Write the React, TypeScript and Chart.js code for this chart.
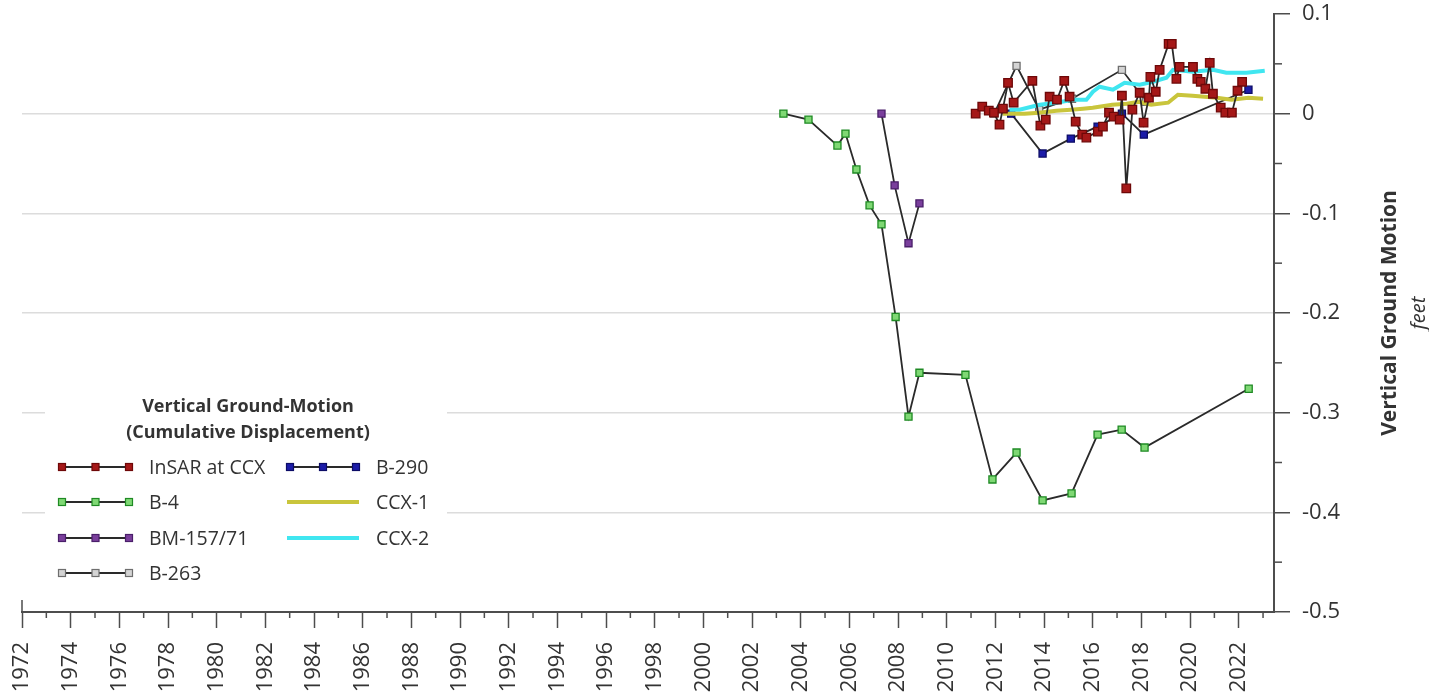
import React, { useEffect, useRef } from 'react';
import { Chart, registerables } from 'chart.js';

Chart.register(...registerables);

// ---------- axis ranges ----------
const xMin = 1972;
const xMax = 2023.45;
const yMin = -0.5;
const yMax = 0.1;

// ---------- data ----------
const insarYears = [2011.19, 2011.46, 2011.73, 2011.94, 2012.17, 2012.31, 2012.52, 2012.75, 2013.52, 2013.85, 2014.07, 2014.23, 2014.53, 2014.83, 2015.05, 2015.3, 2015.57, 2015.74, 2016.21, 2016.42, 2016.67, 2016.86, 2017.11, 2017.2, 2017.38, 2017.63, 2017.93, 2018.09, 2018.31, 2018.37, 2018.59, 2018.75, 2019.12, 2019.25, 2019.44, 2019.57, 2020.12, 2020.3, 2020.44, 2020.63, 2020.81, 2020.94, 2021.26, 2021.45, 2021.72, 2021.95, 2022.14];
const insarValues = [0.0, 0.007, 0.003, 0.001, -0.011, 0.005, 0.031, 0.011, 0.033, -0.012, -0.006, 0.017, 0.014, 0.033, 0.017, -0.008, -0.021, -0.024, -0.018, -0.013, 0.001, -0.003, -0.006, 0.018, -0.075, 0.004, 0.021, -0.009, 0.016, 0.037, 0.022, 0.044, 0.07, 0.07, 0.035, 0.047, 0.047, 0.035, 0.032, 0.025, 0.051, 0.02, 0.006, 0.001, 0.001, 0.023, 0.032];

const b4Years = [2003.29, 2004.32, 2005.51, 2005.84, 2006.29, 2006.83, 2007.32, 2007.9, 2008.43, 2008.88, 2010.77, 2011.88, 2012.87, 2013.94, 2015.13, 2016.2, 2017.19, 2018.13, 2022.41];
const b4Values = [0.0, -0.006, -0.032, -0.02, -0.056, -0.092, -0.111, -0.204, -0.304, -0.26, -0.262, -0.367, -0.34, -0.388, -0.381, -0.322, -0.317, -0.335, -0.276];

const bm157Years = [2007.32, 2007.86, 2008.43, 2008.88];
const bm157Values = [0.0, -0.072, -0.13, -0.09];

const b263Years = [2011.95, 2012.87, 2013.8, 2015.15, 2017.2, 2018.2];
const b263Values = [0.0, 0.048, 0.004, 0.015, 0.044, 0.012];

const b290Years = [2012.65, 2013.94, 2015.1, 2016.2, 2017.2, 2018.1, 2022.4];
const b290Values = [0.0, -0.04, -0.025, -0.013, 0.0, -0.021, 0.024];

const ccx1Years = [2012.3, 2013.2, 2013.8, 2014.5, 2015.1, 2015.6, 2016.0, 2016.8, 2017.4, 2017.9, 2018.4, 2019.1, 2019.5, 2020.1, 2020.6, 2021.1, 2021.7, 2022.4, 2023.0];
const ccx1Values = [0.0, 0.0, 0.001, 0.003, 0.004, 0.005, 0.006, 0.009, 0.01, 0.012, 0.009, 0.011, 0.019, 0.018, 0.017, 0.016, 0.014, 0.016, 0.015];

const ccx2Years = [2012.58, 2012.99, 2013.82, 2014.5, 2015.19, 2015.74, 2016.01, 2016.28, 2016.83, 2017.31, 2017.93, 2018.48, 2019.03, 2019.3, 2020.12, 2020.94, 2021.49, 2022.32, 2023.07];
const ccx2Values = [0.004, 0.004, 0.009, 0.011, 0.014, 0.014, 0.022, 0.027, 0.024, 0.031, 0.029, 0.032, 0.036, 0.044, 0.042, 0.044, 0.041, 0.041, 0.043];

const seriesLabels = ['InSAR at CCX', 'B-4', 'BM-157/71', 'B-263', 'B-290', 'CCX-1', 'CCX-2'];

// ---------- styles ----------
const FONT = '"Open Sans", sans-serif';
const AXIS = '#4d4d4d';
const TEXT = '#333333';
const LINE = '#2a2a2a';

const zip = (xs: number[], ys: number[]) => xs.map((x, i) => ({ x, y: ys[i] }));

const markerSeries = (label: string, xs: number[], ys: number[], fill: string, stroke: string, radius: number, order: number) => ({
  label,
  data: zip(xs, ys),
  borderColor: LINE,
  borderWidth: 1.8,
  pointStyle: 'rect',
  pointRadius: radius,
  pointBackgroundColor: fill,
  pointBorderColor: stroke,
  pointBorderWidth: 1.3,
  tension: 0,
  fill: false,
  order,
});

const plainSeries = (label: string, xs: number[], ys: number[], color: string, order: number) => ({
  label,
  data: zip(xs, ys),
  borderColor: color,
  borderWidth: 4,
  pointRadius: 0,
  tension: 0,
  fill: false,
  order,
});

const decorPlugin = {
  id: 'decor',
  afterDraw(chart: any) {
    const ctx = chart.ctx as CanvasRenderingContext2D;
    const xs = chart.scales.x;
    const ys = chart.scales.y;
    const area = chart.chartArea;
    ctx.save();
    // minor ticks
    ctx.strokeStyle = AXIS;
    ctx.lineWidth = 1.5;
    for (let yr = Math.ceil(xMin); yr <= xMax; yr++) {
      if (yr % 2 === 0) continue;
      const px = xs.getPixelForValue(yr);
      ctx.beginPath();
      ctx.moveTo(px, area.bottom);
      ctx.lineTo(px, area.bottom + 6);
      ctx.stroke();
    }
    for (let k = -9; k <= 1; k += 2) {
      const py = ys.getPixelForValue(k * 0.05);
      ctx.beginPath();
      ctx.moveTo(area.right, py);
      ctx.lineTo(area.right + 8, py);
      ctx.stroke();
    }
    // left edge tick
    const lx = xs.getPixelForValue(xMin);
    ctx.beginPath();
    ctx.moveTo(lx, area.bottom - 12);
    ctx.lineTo(lx, area.bottom);
    ctx.stroke();

    // right axis title
    ctx.fillStyle = TEXT;
    ctx.textAlign = 'center';
    ctx.textBaseline = 'middle';
    ctx.translate(1390, 313);
    ctx.rotate(-Math.PI / 2);
    ctx.font = `bold 21px ${FONT}`;
    ctx.fillText('Vertical Ground Motion', 0, 0);
    ctx.font = `italic 20px ${FONT}`;
    ctx.fillText('feet', 0, 29);
    ctx.restore();

    // legend
    ctx.save();
    ctx.fillStyle = '#ffffff';
    ctx.fillRect(45, 386, 402, 208);
    ctx.fillStyle = TEXT;
    ctx.textAlign = 'center';
    ctx.textBaseline = 'middle';
    ctx.font = `bold 18px ${FONT}`;
    ctx.fillText('Vertical Ground-Motion', 248, 407);
    ctx.fillText('(Cumulative Displacement)', 248, 433);
    const rows = [467, 502, 538, 573];
    const cols = [
      { x0: 59, x1: 132, tx: 149, items: [0, 1, 2, 3] },
      { x0: 287, x1: 359, tx: 376, items: [4, 5, 6] },
    ];
    ctx.textAlign = 'left';
    ctx.font = `19.5px ${FONT}`;
    cols.forEach((c) => {
      c.items.forEach((di, r) => {
        const ds: any = chart.data.datasets[di];
        const y = rows[r];
        ctx.beginPath();
        ctx.strokeStyle = ds.borderColor;
        ctx.lineWidth = ds.pointRadius ? 1.8 : 4;
        ctx.moveTo(c.x0, y);
        ctx.lineTo(c.x1, y);
        ctx.stroke();
        if (ds.pointRadius) {
          [c.x0 + 3, (c.x0 + c.x1) / 2, c.x1 - 3].forEach((mx) => {
            ctx.fillStyle = ds.pointBackgroundColor;
            ctx.strokeStyle = ds.pointBorderColor;
            ctx.lineWidth = 1.2;
            ctx.fillRect(mx - 3.5, y - 3.5, 7, 7);
            ctx.strokeRect(mx - 3.5, y - 3.5, 7, 7);
          });
        }
        ctx.fillStyle = TEXT;
        ctx.fillText(ds.label, c.tx, y + 1);
      });
    });
    ctx.restore();
  },
};

export default function App() {
  const canvasRef = useRef<HTMLCanvasElement | null>(null);

  useEffect(() => {
    if (!canvasRef.current) return;
    const chart = new Chart(canvasRef.current, {
      type: 'line',
      data: {
        datasets: [
          markerSeries(seriesLabels[0], insarYears, insarValues, '#a51818', '#6e0808', 6, 2),
          markerSeries(seriesLabels[1], b4Years, b4Values, '#7fd874', '#1f8a24', 5, 1),
          markerSeries(seriesLabels[2], bm157Years, bm157Values, '#7a3f9c', '#4a1f6a', 5, 1),
          markerSeries(seriesLabels[3], b263Years, b263Values, '#d4d4d4', '#6e6e6e', 5, 4),
          markerSeries(seriesLabels[4], b290Years, b290Values, '#1c1ca8', '#0c0c66', 5, 5),
          plainSeries(seriesLabels[5], ccx1Years, ccx1Values, '#c9c53c', 3),
          plainSeries(seriesLabels[6], ccx2Years, ccx2Values, '#40e6f0', 3),
        ] as any,
      },
      options: {
        responsive: false,
        animation: false,
        layout: { padding: { left: 22, top: 14, right: 0, bottom: 0 } },
        plugins: { legend: { display: false }, tooltip: { enabled: false } },
        scales: {
          x: {
            type: 'linear',
            min: xMin,
            max: xMax,
            position: 'bottom',
            afterFit: (s: any) => { s.height = 85; s.paddingLeft = 0; s.paddingRight = 0; },
            border: { display: true, color: AXIS, width: 2 },
            grid: {
              drawOnChartArea: false,
              drawTicks: true,
              tickLength: 16,
              tickWidth: 1.5,
              tickColor: (c: any) => (c.tick && Math.round(c.tick.value) % 2 === 0 ? AXIS : 'rgba(0,0,0,0)'),
            },
            ticks: {
              stepSize: 1,
              autoSkip: false,
              includeBounds: false,
              minRotation: 90,
              maxRotation: 90,
              padding: 14,
              color: TEXT,
              font: { family: FONT, size: 22 },
              callback: (v: any) => {
                const n = Math.round(Number(v));
                return n % 2 === 0 ? String(n) : '';
              },
            },
          },
          y: {
            type: 'linear',
            position: 'right',
            min: yMin,
            max: yMax,
            afterFit: (s: any) => { s.width = 155; s.paddingTop = 0; s.paddingBottom = 0; },
            border: { display: true, color: AXIS, width: 2 },
            grid: {
              drawOnChartArea: true,
              drawTicks: true,
              tickLength: 16,
              tickWidth: 1.5,
              lineWidth: 1.5,
              color: (c: any) => {
                if (!c.tick) return 'rgba(0,0,0,0)';
                const k = Math.round(c.tick.value * 20);
                return k % 2 === 0 && k !== 2 && k !== -10 ? '#dcdcdc' : 'rgba(0,0,0,0)';
              },
              tickColor: (c: any) => {
                if (!c.tick) return 'rgba(0,0,0,0)';
                const k = Math.round(c.tick.value * 20);
                return k % 2 === 0 ? AXIS : 'rgba(0,0,0,0)';
              },
            },
            ticks: {
              stepSize: 0.05,
              autoSkip: false,
              padding: 12,
              color: TEXT,
              font: { family: FONT, size: 22 },
              callback: (v: any) => {
                const k = Math.round(Number(v) * 20);
                if (k % 2 !== 0) return '';
                return String(Math.round(k / 2) / 10);
              },
            },
          },
        },
      },
      plugins: [decorPlugin],
    } as any);
    return () => chart.destroy();
  }, []);

  return (
    <div style={{ position: 'absolute', left: 0, top: 0, width: 1429, height: 697, background: '#fff' }}>
      <canvas ref={canvasRef} width={1429} height={697} style={{ display: 'block', width: 1429, height: 697 }} />
    </div>
  );
}
